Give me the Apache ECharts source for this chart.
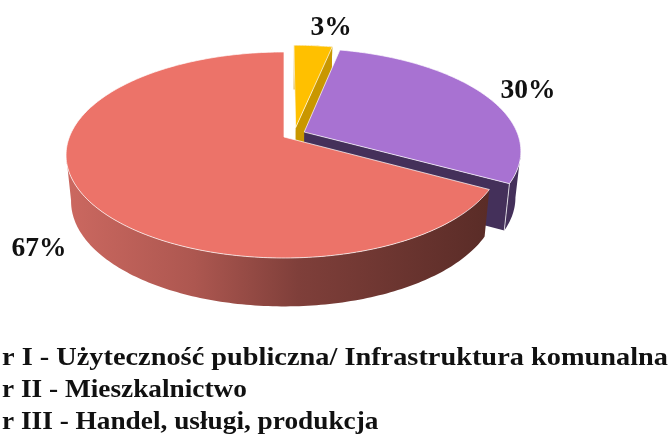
<!DOCTYPE html>
<html><head><meta charset="utf-8">
<style>html,body{margin:0;padding:0;background:#fff}#c{width:671px;height:434px}</style>
<script src="https://cdn.jsdelivr.net/npm/echarts@6/dist/echarts.min.js"></script>
</head><body><div id="c"></div>
<script>
// Data
const categories = ['r I - Użyteczność publiczna/ Infrastruktura komunalna','r II - Mieszkalnictwo','r III - Handel, usługi, produkcja'];
const values = [3.4, 29.6, 67];

// Styles / layout (projection of a tilted disc)
const topColors = ['#FFC000','#A872D2','#EC7369'];
const cutColors = ['#C99700','#44305A','#5C2D28'];
const explode = [[0.055,0.095],[0.095,0.05],[0,0]];
const labelPos = [[331,28],[528,91],[39,249]];
const legendY = [358,390,422];
const legendScale = [1.09,1.05,1.05];
const cx=284, cy=137, R=214.6, A=99.85, K=0.1747, DEPTH=46, SX=0.977, SY=0.02;

const total = values.reduce((a,b)=>a+b,0);
const starts = []; values.reduce((acc,v,i)=>{starts[i]=acc; return acc+v;},0);

function projTop(X,Y){const w=1+K*Y; return [cx+R*X/w, cy-A*Y/w];}
function projBot(p){return [cx+(p[0]-cx)*SX, p[1]+DEPTH+(p[1]-cy)*SY];}

function renderItem(params, api){
  const i = params.dataIndex, v = api.value(0);
  const a0 = starts[i]/total*2*Math.PI, a1 = (starts[i]+v)/total*2*Math.PI;
  const [ex,ey] = explode[i];
  const rim = [];
  const n = Math.max(4, Math.ceil((a1-a0)/(Math.PI/180)));
  for(let s=0;s<=n;s++){const a=a0+(a1-a0)*s/n; rim.push(projTop(ex+Math.sin(a),ey+Math.cos(a)));}
  const apex = projTop(ex,ey), tip = rim[rim.length-1];
  // visible wall ends at the silhouette of the disc
  let iMin=0,iMax=0;
  rim.forEach((p,k)=>{ if(p[0]<rim[iMin][0]) iMin=k; if(p[0]>rim[iMax][0]) iMax=k; });
  const wallRim = i===2 ? rim.slice(iMax,iMin+1) : i===1 ? rim.slice(iMax) : rim;
  const children = [];
  const wallFill = i===2
    ? {type:'linear',x:68,y:0,x2:487,y2:0,global:true,colorStops:[
        {offset:0,color:'#CB6860'},{offset:0.3,color:'#AD5750'},{offset:0.55,color:'#7F3F3A'},{offset:1,color:'#5A2C27'}]}
    : cutColors[i];
  children.push({type:'polygon',shape:{points:wallRim.concat(wallRim.map(projBot).reverse())},style:{fill:wallFill}});
  children.push({type:'polygon',shape:{points:[apex,tip,projBot(tip),projBot(apex)]},style:{fill:cutColors[i]}});
  if(i===1){ children.push({type:'line',shape:{x1:tip[0],y1:tip[1],x2:projBot(tip)[0],y2:projBot(tip)[1]},style:{stroke:'rgba(255,255,255,0.75)',lineWidth:1}}); }
  children.push({type:'polygon',shape:{points:[apex].concat(rim)},style:{fill:topColors[i],stroke:'rgba(255,255,255,0.7)',lineWidth:1,lineJoin:'round'}});
  return {type:'group',children:children};
}

const chart = echarts.init(document.getElementById('c'),null,{renderer:'canvas'});
chart.setOption({
  animation:false,
  backgroundColor:'#fff',
  series:[{
    type:'custom',
    coordinateSystem:'none',
    data:values.map((v,i)=>({name:categories[i],value:[v]})),
    renderItem:renderItem,
    silent:true
  }],
  graphic:[
    ...values.map((v,i)=>({type:'text',z:50,x:labelPos[i][0],y:labelPos[i][1],
      style:{text:Math.round(v)+'%',fill:'#111',font:'bold 27.5px "Liberation Serif"',textAlign:'center',textVerticalAlign:'middle'}})),
    ...categories.map((t,i)=>({type:'text',z:50,x:2,y:legendY[i],scaleX:legendScale[i],
      style:{text:t,fill:'#111',font:'bold 26px "Liberation Serif"',textAlign:'left',textVerticalAlign:'middle'}}))
  ]
});
</script></body></html>
